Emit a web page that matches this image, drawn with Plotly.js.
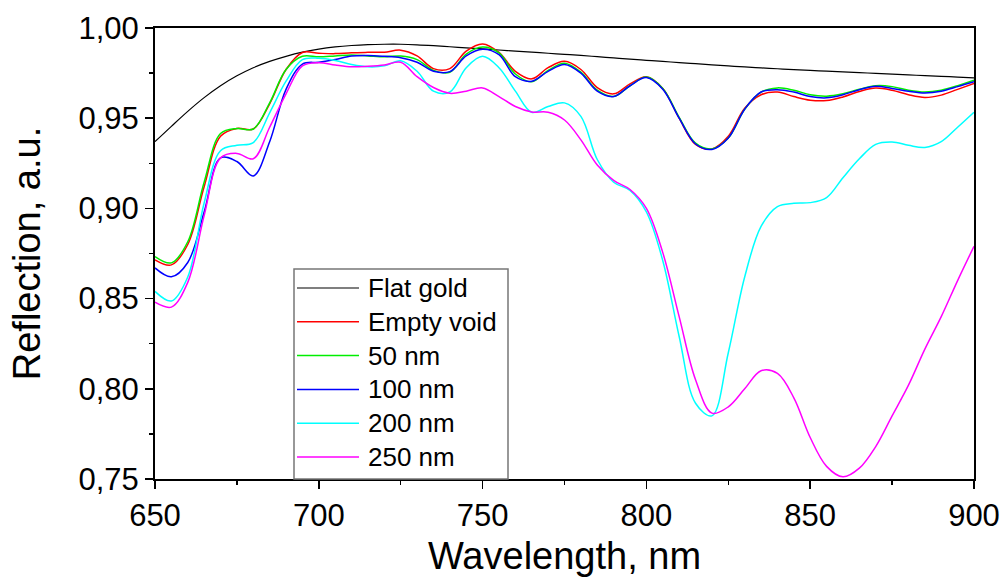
<!DOCTYPE html>
<html>
<head>
<meta charset="utf-8">
<script src="https://cdn.plot.ly/plotly-3.0.1.min.js"></script>
<style>
html,body{margin:0;padding:0;background:#fff;}
#chart{width:1004px;height:578px;}
</style>
</head>
<body>
<div id="chart"></div>
<script>
// Wavelength grid, nm
const wavelength = [650,655,660,665,670,675,680,685,690,695,700,705,710,715,720,725,730,735,740,745,750,755,760,765,770,775,780,785,790,795,800,805,810,815,820,825,830,835,840,845,850,855,860,865,870,875,880,885,890,895,900];

const flatGold = [0.937,0.9455,0.9538,0.9614,0.968,0.9735,0.978,0.9815,0.9843,0.9866,0.9883,0.9895,0.9903,0.9908,0.991,0.991,0.9907,0.9902,0.9896,0.989,0.9884,0.9878,0.9872,0.9866,0.986,0.9854,0.9848,0.9841,0.9834,0.9827,0.9821,0.9815,0.9808,0.9802,0.9796,0.979,0.9784,0.9779,0.9774,0.9769,0.9765,0.9761,0.9757,0.9753,0.9748,0.9744,0.974,0.9736,0.9732,0.9728,0.9724];

const emptyVoid = [0.8715,0.8687,0.880,0.912,0.940,0.9443,0.944,0.958,0.977,0.9864,0.986,0.9858,0.9863,0.9865,0.9866,0.9877,0.9845,0.9775,0.9775,0.9872,0.9912,0.9865,0.976,0.9718,0.978,0.9815,0.977,0.967,0.9635,0.969,0.973,0.9665,0.950,0.9355,0.933,0.940,0.9555,0.963,0.9645,0.962,0.960,0.9598,0.9618,0.9648,0.9667,0.9655,0.963,0.9615,0.9628,0.966,0.9692];

const nm50 = [0.8733,0.8698,0.8815,0.9145,0.9415,0.9443,0.944,0.9585,0.977,0.9843,0.984,0.9845,0.985,0.9845,0.984,0.9845,0.9825,0.9765,0.9755,0.9855,0.9894,0.9862,0.9745,0.9702,0.9765,0.9805,0.9755,0.9655,0.962,0.968,0.9728,0.9665,0.9505,0.9362,0.933,0.939,0.955,0.9645,0.9668,0.9655,0.963,0.9622,0.9635,0.966,0.968,0.9675,0.9655,0.9645,0.9655,0.968,0.971];

const nm100 = [0.867,0.8621,0.870,0.898,0.928,0.926,0.918,0.937,0.966,0.980,0.981,0.9825,0.9845,0.9848,0.9843,0.9835,0.981,0.976,0.9758,0.9845,0.9882,0.9852,0.973,0.9705,0.976,0.9798,0.975,0.965,0.962,0.968,0.9725,0.966,0.950,0.9357,0.9327,0.939,0.955,0.9645,0.9658,0.9645,0.962,0.9613,0.963,0.9658,0.9677,0.9665,0.965,0.964,0.965,0.9675,0.9702];

const nm200 = [0.854,0.8487,0.862,0.903,0.932,0.935,0.9365,0.953,0.9705,0.9825,0.9832,0.982,0.9798,0.9785,0.979,0.9818,0.976,0.965,0.9645,0.978,0.9843,0.978,0.965,0.9533,0.9565,0.9585,0.951,0.9271,0.9145,0.910,0.898,0.871,0.829,0.792,0.785,0.820,0.862,0.890,0.901,0.9028,0.9032,0.906,0.917,0.9275,0.9355,0.9368,0.935,0.9338,0.937,0.945,0.9533];

const nm250 = [0.848,0.8453,0.859,0.896,0.928,0.9305,0.9275,0.945,0.9635,0.979,0.9808,0.9795,0.9785,0.9788,0.9795,0.981,0.973,0.967,0.9638,0.965,0.9668,0.962,0.9565,0.9535,0.9533,0.949,0.938,0.924,0.9155,0.9105,0.900,0.8755,0.840,0.805,0.7865,0.790,0.800,0.810,0.8085,0.795,0.773,0.757,0.7512,0.756,0.768,0.785,0.802,0.822,0.840,0.860,0.879];

const seriesNames = ['Flat gold','Empty void','50 nm','100 nm','200 nm','250 nm'];
const seriesData = [flatGold, emptyVoid, nm50, nm100, nm200, nm250];
const seriesColors = ['#000000','#ff0000','#00ee00','#0000ff','#00ffff','#ff00ff'];
const seriesWidths = [1.2,1.5,1.5,1.5,1.5,1.5];

const traces = seriesData.map((ys, i) => ({
  x: wavelength,
  y: ys,
  type: 'scatter',
  mode: 'lines',
  name: seriesNames[i],
  showlegend: false,
  line: {color: seriesColors[i], width: seriesWidths[i], shape: 'spline', smoothing: 1}
}));

const font = 'Liberation Sans, Arial, sans-serif';

// Plot-area geometry (pixels) for the hand-drawn legend box
const W = 1004, H = 578;
const mL = 155, mR = 30, mT = 28, mB = 99;
const pw = W - mL - mR, ph = H - mT - mB;
const px = v => (v - mL) / pw;
const py = v => (H - mB - v) / ph;

const shapes = [];
const annotations = [];
// legend frame
shapes.push({type: 'rect', xref: 'paper', yref: 'paper',
  x0: px(294), x1: px(508), y0: py(479), y1: py(269),
  line: {color: '#777777', width: 1.5}, fillcolor: '#ffffff', layer: 'above'});
const rowY0 = 288, rowStep = 33.8;
seriesNames.forEach((name, i) => {
  const yy = rowY0 + i * rowStep;
  shapes.push({type: 'line', xref: 'paper', yref: 'paper',
    x0: px(297), x1: px(359), y0: py(yy), y1: py(yy),
    line: {color: seriesColors[i], width: seriesWidths[i]}, layer: 'above'});
  annotations.push({xref: 'paper', yref: 'paper', x: px(366), y: py(yy),
    xanchor: 'left', yanchor: 'middle', showarrow: false, text: name,
    font: {family: font, size: 26, color: '#000'}});
});

const layout = {
  width: W,
  height: H,
  margin: {l: mL, r: mR, t: mT, b: mB, pad: 0},
  paper_bgcolor: '#ffffff',
  plot_bgcolor: '#ffffff',
  separators: ', ',
  font: {family: font, color: '#000', size: 30},
  showlegend: false,
  shapes: shapes,
  annotations: annotations,
  xaxis: {
    range: [650, 900],
    tickmode: 'linear', tick0: 650, dtick: 50,
    ticks: 'outside', ticklen: 8, tickwidth: 1.5, tickcolor: '#000',
    showline: true, linecolor: '#000', linewidth: 2, mirror: true,
    showgrid: false, zeroline: false,
    tickfont: {family: font, size: 31, color: '#000'},
    minor: {dtick: 25, ticks: 'outside', ticklen: 4, tickwidth: 1.5, tickcolor: '#000', showgrid: false},
    title: {text: 'Wavelength, nm', font: {family: font, size: 38, color: '#000'}, standoff: 10}
  },
  yaxis: {
    range: [0.75, 1.0],
    tickmode: 'linear', tick0: 0.75, dtick: 0.05, tickformat: '.2f',
    ticks: 'outside', ticklen: 8, tickwidth: 1.5, tickcolor: '#000',
    showline: true, linecolor: '#000', linewidth: 2, mirror: true,
    showgrid: false, zeroline: false,
    tickfont: {family: font, size: 31, color: '#000'},
    minor: {dtick: 0.025, ticks: 'outside', ticklen: 4, tickwidth: 1.5, tickcolor: '#000', showgrid: false},
    title: {text: 'Reflection, a.u.', font: {family: font, size: 38, color: '#000'}, standoff: 26}
  }
};

Plotly.newPlot('chart', traces, layout, {displayModeBar: false, staticPlot: true});
</script>
</body>
</html>
